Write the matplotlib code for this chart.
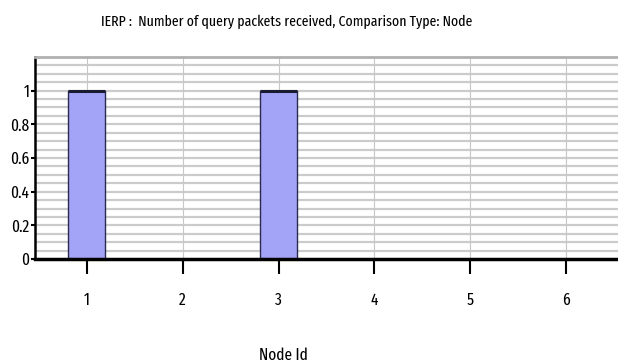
import matplotlib
matplotlib.use("Agg")
import matplotlib.pyplot as plt
import numpy as np
from matplotlib import font_manager

node_ids = [1, 2, 3, 4, 5, 6]
packets = [1, 0, 1, 0, 0, 0]
y_ticks = [0, 0.2, 0.4, 0.6, 0.8, 1]
y_tick_labels = ["0", "0.2", "0.4", "0.6", "0.8", "1"]
title = "IERP :  Number of query packets received, Comparison Type: Node"
xlabel = "Node Id"

names = {f.name for f in font_manager.fontManager.ttflist}
fam = "DejaVu Sans"
for cand in ["Fira Sans Extra Condensed", "PT Sans Narrow", "Roboto Condensed",
             "Archivo Narrow", "Asap Condensed"]:
    if cand in names:
        fam = cand
        break
plt.rcParams["font.family"] = [fam, "DejaVu Sans"]

fig = plt.figure(figsize=(6.18, 3.63), dpi=100)
ax = fig.add_axes([35/618, (363-259)/363, 1 - 35/618, (259-57)/363])

ax.set_xlim(0.46, 6.54)
ax.set_ylim(0, 1.2)

for y in np.arange(0.05, 1.2, 0.05):
    ax.axhline(y, color="#cbcbcb", lw=1.6, zorder=0)
for x in node_ids:
    ax.axvline(x, color="#c8c8c8", lw=0.8, zorder=0)

bars = ax.bar(node_ids, packets, width=0.385, color="#a3a3f7", edgecolor="#2a2a50",
              linewidth=1.0, zorder=2)
for b, v in zip(bars, packets):
    if v > 0:
        ax.plot([b.get_x(), b.get_x() + b.get_width()], [v, v], color="#1a1a30",
                lw=2.2, zorder=3, solid_capstyle="butt")

ax.set_xticks(node_ids)
ax.set_xticklabels([str(n) for n in node_ids], fontsize=12)
ax.set_yticks(y_ticks)
ax.set_yticklabels(y_tick_labels, fontsize=12)
ax.tick_params(axis="x", length=11, width=1.5, pad=13, color="black")
ax.tick_params(axis="y", length=3, width=1.5, pad=1, color="black")

ax.spines["right"].set_visible(False)
ax.spines["top"].set_color("#b0b0b0")
ax.spines["top"].set_linewidth(2)
ax.spines["left"].set_linewidth(1.8)
ax.spines["bottom"].set_linewidth(2.5)

t = fig.text(287/618, 1 - 21.5/363, title, ha="center", va="center", fontsize=13)
fig.canvas.draw()
w = t.get_window_extent().width
target = 373
if w > target:
    t.set_fontsize(13 * target / w)
fig.text(283/618, 1 - 355/363, xlabel, ha="center", va="center", fontsize=12)

fig.savefig("out.png", dpi=100)
